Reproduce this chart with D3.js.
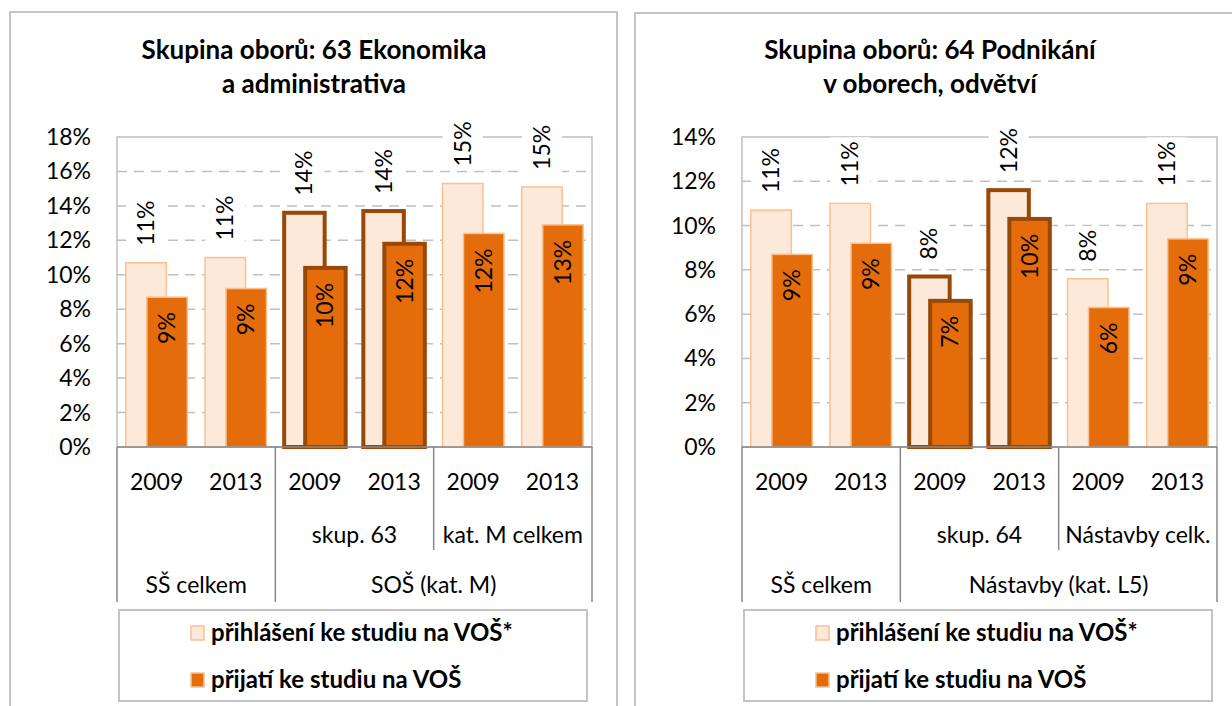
<!DOCTYPE html>
<html>
<head>
<meta charset="utf-8">
<script src="https://cdnjs.cloudflare.com/ajax/libs/d3/7.8.5/d3.min.js"></script>
<style>
body { margin: 0; background: #fff; }
text { font-family: Lato, "Open Sans", sans-serif; fill: #000; }
</style>
</head>
<body>
<div id="display-container"></div>
<script>

// series names (legend)
var seriesNames = ["přihlášení ke studiu na VOŠ*", "přijatí ke studiu na VOŠ"];

// left chart: 63 Ekonomika a administrativa
var leftTitle = ["Skupina oborů: 63 Ekonomika", "a administrativa"];
var leftYears = ["2009", "2013", "2009", "2013", "2009", "2013"];
var leftSub = ["", "", "skup. 63", "skup. 63", "kat. M celkem", "kat. M celkem"];
var leftMain = ["SŠ celkem", "SŠ celkem", "SOŠ (kat. M)", "SOŠ (kat. M)", "SOŠ (kat. M)", "SOŠ (kat. M)"];
var leftApplied = [0.107, 0.110, 0.136, 0.137, 0.153, 0.151];
var leftAdmitted = [0.087, 0.092, 0.104, 0.118, 0.124, 0.129];
var leftTicks = [0, 0.02, 0.04, 0.06, 0.08, 0.10, 0.12, 0.14, 0.16, 0.18];

// right chart: 64 Podnikání v oborech, odvětví
var rightTitle = ["Skupina oborů: 64 Podnikání", "v oborech, odvětví"];
var rightYears = ["2009", "2013", "2009", "2013", "2009", "2013"];
var rightSub = ["", "", "skup. 64", "skup. 64", "Nástavby celk.", "Nástavby celk."];
var rightMain = ["SŠ celkem", "SŠ celkem", "Nástavby (kat. L5)", "Nástavby (kat. L5)", "Nástavby (kat. L5)", "Nástavby (kat. L5)"];
var rightApplied = [0.107, 0.110, 0.077, 0.116, 0.076, 0.110];
var rightAdmitted = [0.087, 0.092, 0.066, 0.103, 0.063, 0.094];
var rightTicks = [0, 0.02, 0.04, 0.06, 0.08, 0.10, 0.12, 0.14];

var lightFill = "#fde9d9";
var lightEdge = "#fac090";
var darkFill = "#e46c0a";
var brown = "#984807";
var gridColor = "#bfbfbf";
var axisColor = "#888888";

var svg = d3.select("#display-container").append("svg")
    .attr("width", 1232)
    .attr("height", 706);

drawChart({
    frameLeft: 10, frameTop: 12, frameRight: 617, titleX: 314,
    left: 117, right: 592,
    title: leftTitle, years: leftYears, sub: leftSub, main: leftMain,
    applied: leftApplied, admitted: leftAdmitted, ticks: leftTicks,
    highlight: "skup. 63"
});

drawChart({
    frameLeft: 635, frameTop: 13, frameRight: 1260, titleX: 930,
    left: 742, right: 1217,
    title: rightTitle, years: rightYears, sub: rightSub, main: rightMain,
    applied: rightApplied, admitted: rightAdmitted, ticks: rightTicks,
    highlight: "skup. 64"
});

function drawChart(c){
    var g = svg.append("g");
    var top = 137, bottom = 447;
    var yearRow = 490, subRow = 543, mainRow = 593;
    var tableBottom = 602, subBottom = 550;

    // chart frame
    g.append("rect")
        .attr("x", c.frameLeft).attr("y", c.frameTop)
        .attr("width", c.frameRight - c.frameLeft).attr("height", 800)
        .attr("fill", "none").attr("stroke", "#c4c4c4").attr("stroke-width", 2);

    // title
    g.append("text")
        .attr("text-anchor", "middle")
        .style("font-weight", "bold").style("font-size", "26px")
        .selectAll("tspan").data(c.title).enter().append("tspan")
        .attr("x", c.titleX)
        .attr("y", function(d, i){ return 59 + i * 34; })
        .text(function(d){ return d; });

    var x = d3.scaleBand().domain(d3.range(c.years.length)).range([c.left, c.right]);
    var y = d3.scaleLinear().domain([0, d3.max(c.ticks)]).range([bottom, top]);
    var bw = x.bandwidth();
    var barW = 42, step = 21;
    var pad = (bw - barW - step) / 2;

    // dashed gridlines
    g.selectAll(".grid")
        .data(c.ticks.slice(1, -1))
        .enter().append("line")
        .attr("x1", c.left).attr("x2", c.right)
        .attr("y1", function(d){ return y(d); })
        .attr("y2", function(d){ return y(d); })
        .attr("stroke", gridColor).attr("stroke-width", 1.5)
        .attr("stroke-dasharray", "10,7");

    // plot area border
    g.append("rect")
        .attr("x", c.left).attr("y", top)
        .attr("width", c.right - c.left).attr("height", bottom - top)
        .attr("fill", "none").attr("stroke", gridColor).attr("stroke-width", 1.5);

    // y tick labels
    var fmt = d3.format(".0%");
    g.selectAll(".ytick")
        .data(c.ticks)
        .enter().append("text")
        .attr("x", c.left - 26)
        .attr("y", function(d){ return y(d); })
        .attr("dy", "0.35em")
        .attr("text-anchor", "end")
        .style("font-size", "23px")
        .text(fmt);

    var idx = d3.range(c.years.length);
    function isHi(i){ return c.sub[i] === c.highlight; }

    // applied bars (light)
    g.selectAll(".applied")
        .data(idx)
        .enter().append("rect")
        .attr("x", function(i){ return x(i) + pad + 0.75; })
        .attr("y", function(i){ return y(c.applied[i]); })
        .attr("width", barW - 1.5)
        .attr("height", function(i){ return y(0) - y(c.applied[i]); })
        .attr("fill", lightFill)
        .attr("stroke", function(i){ return isHi(i) ? brown : lightEdge; })
        .attr("stroke-width", function(i){ return isHi(i) ? 4 : 1.5; });

    // admitted bars (dark)
    g.selectAll(".admitted")
        .data(idx)
        .enter().append("rect")
        .attr("x", function(i){ return x(i) + pad + step + 0.75; })
        .attr("y", function(i){ return y(c.admitted[i]); })
        .attr("width", barW - 1.5)
        .attr("height", function(i){ return y(0) - y(c.admitted[i]); })
        .attr("fill", darkFill)
        .attr("stroke", function(i){ return isHi(i) ? brown : lightEdge; })
        .attr("stroke-width", function(i){ return isHi(i) ? 4 : 1.5; });

    // labels above light bars, on white box
    idx.forEach(function(i){
        var cx = x(i) + pad + barW / 2;
        var ty = y(c.applied[i]) - 17;
        var box = g.append("rect").attr("fill", "#fff");
        var t = g.append("text")
            .attr("transform", "translate(" + cx + "," + ty + ") rotate(-90)")
            .attr("dy", "0.35em")
            .attr("text-anchor", "start")
            .style("font-size", "23px")
            .text(fmt(c.applied[i]));
        var len = t.node().getComputedTextLength();
        box.attr("x", cx - 20).attr("width", 40)
            .attr("y", ty - len - 4).attr("height", len + 8);
    });

    // labels inside dark bars
    g.selectAll(".dlabel")
        .data(idx)
        .enter().append("text")
        .attr("transform", function(i){
            return "translate(" + (x(i) + pad + step + barW / 2) + "," + (y(c.admitted[i]) + 15) + ") rotate(-90)";
        })
        .attr("dy", "0.35em")
        .attr("text-anchor", "end")
        .style("font-size", "23px")
        .text(function(i){ return fmt(c.admitted[i]); });

    // x axis line
    g.append("line")
        .attr("x1", c.left).attr("x2", c.right)
        .attr("y1", bottom).attr("y2", bottom)
        .attr("stroke", axisColor).attr("stroke-width", 1.5);

    // multi-level category table
    function runs(arr){
        var out = [];
        arr.forEach(function(v, i){
            if (out.length && out[out.length - 1].label === v) out[out.length - 1].end = i;
            else out.push({label: v, start: i, end: i});
        });
        return out;
    }
    var mainRuns = runs(c.main);
    var subRuns = runs(c.sub.map(function(s, i){ return c.main[i] + "|" + s; }));

    var edges = [];
    mainRuns.forEach(function(r){ edges.push({x: x(r.start), y2: tableBottom}); });
    edges.push({x: c.right, y2: tableBottom});
    subRuns.forEach(function(r){
        var xs = x(r.start);
        if (!edges.some(function(e){ return Math.abs(e.x - xs) < 1; })) edges.push({x: xs, y2: subBottom});
    });
    g.selectAll(".edge")
        .data(edges)
        .enter().append("line")
        .attr("x1", function(d){ return d.x; }).attr("x2", function(d){ return d.x; })
        .attr("y1", bottom).attr("y2", function(d){ return d.y2; })
        .attr("stroke", axisColor).attr("stroke-width", 1.5);

    g.selectAll(".year")
        .data(idx)
        .enter().append("text")
        .attr("x", function(i){ return x(i) + bw / 2; })
        .attr("y", yearRow)
        .attr("text-anchor", "middle")
        .style("font-size", "23px")
        .text(function(i){ return c.years[i]; });

    g.selectAll(".sub")
        .data(subRuns)
        .enter().append("text")
        .attr("x", function(r){ return (x(r.start) + x(r.end) + bw) / 2; })
        .attr("y", subRow)
        .attr("text-anchor", "middle")
        .style("font-size", "23px")
        .text(function(r){ return r.label.split("|")[1]; });

    g.selectAll(".main")
        .data(mainRuns)
        .enter().append("text")
        .attr("x", function(r){ return (x(r.start) + x(r.end) + bw) / 2; })
        .attr("y", mainRow)
        .attr("text-anchor", "middle")
        .style("font-size", "23px")
        .text(function(r){ return r.label; });

    // legend
    var lg = g.append("g");
    lg.append("rect")
        .attr("x", c.left + 2).attr("y", 610)
        .attr("width", c.right - c.left - 7).attr("height", 91)
        .attr("fill", "#fff").attr("stroke", "#c4c4c4").attr("stroke-width", 2);
    var items = lg.selectAll(".item")
        .data(seriesNames)
        .enter().append("g")
        .attr("transform", function(d, i){ return "translate(" + (c.left + 73) + "," + (633 + i * 47) + ")"; });
    items.append("rect")
        .attr("x", 1).attr("y", -7)
        .attr("width", 13).attr("height", 14)
        .attr("fill", function(d, i){ return i === 0 ? lightFill : darkFill; })
        .attr("stroke", lightEdge).attr("stroke-width", 1.5);
    items.append("text")
        .attr("x", 21).attr("dy", "0.35em")
        .style("font-size", "24px").style("font-weight", "bold")
        .text(function(d){ return d; });
}
</script>
</body>
</html>
